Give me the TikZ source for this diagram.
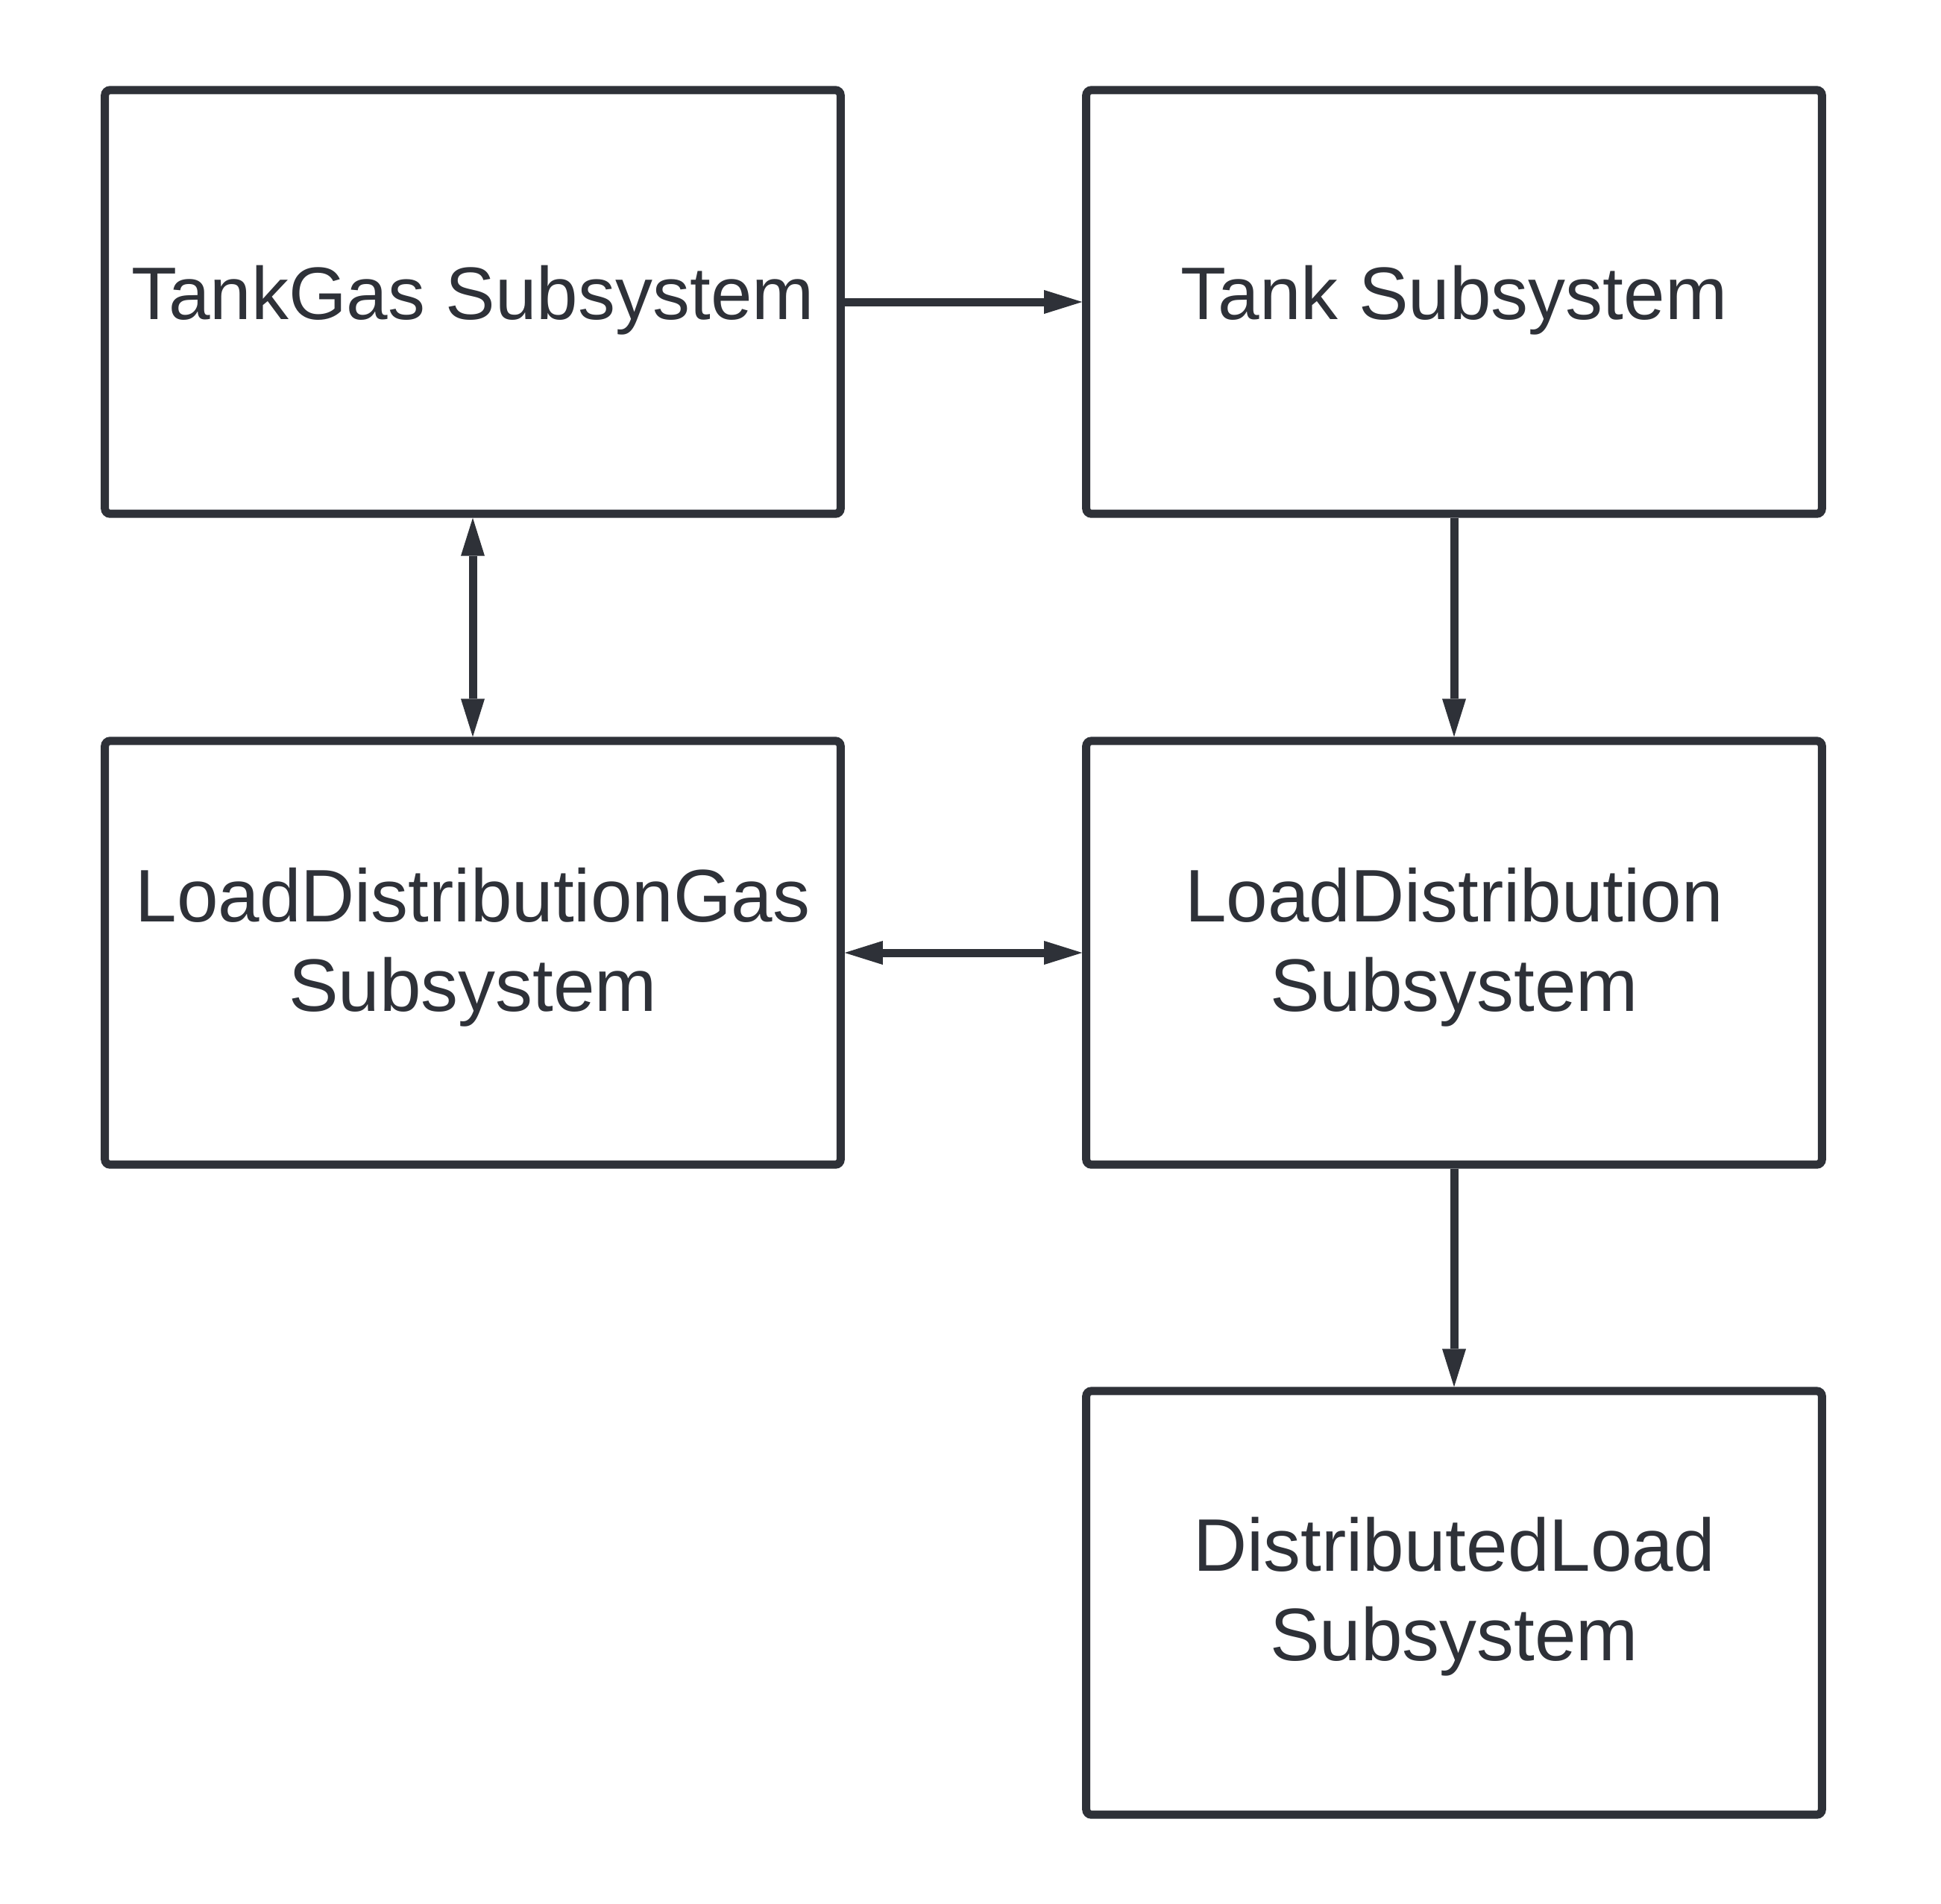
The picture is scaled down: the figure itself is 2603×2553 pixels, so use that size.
\documentclass[tikz,border=0pt]{standalone}
\usepackage{fontspec}
\setmainfont{Liberation Sans}
\usetikzlibrary{arrows.meta}
\definecolor{ink}{HTML}{2E3138}
\begin{document}
\begin{tikzpicture}[x=0.01cm,y=-0.01cm,
  box/.style={draw=ink, line width=0.11cm, rounded corners=0.07cm,
    minimum width=9.86cm, minimum height=5.68cm, inner sep=0pt},
  txt/.style={text=ink, font=\fontsize{28.4pt}{34.1pt}\selectfont,
    align=center, inner sep=0pt, anchor=base},
  conn/.style={draw=ink, line width=0.11cm},
  tipend/.style={conn, -{Triangle[length=0.51cm,width=0.32cm,line width=0pt]}},
  tipboth/.style={conn, {Triangle[length=0.51cm,width=0.32cm,line width=0pt]}-{Triangle[length=0.51cm,width=0.32cm,line width=0pt]}}]
\useasboundingbox[fill=white] (0,0) rectangle (2603,2553);

\node[box] (tg)  at (634,405)  {};
\node[box] (t)   at (1950,405) {};
\node[box] (ldg) at (634,1278) {};
\node[box] (ld)  at (1950,1278) {};
\node[box] (dl)  at (1950,2150) {};

\node[txt] (tgl)  at (634,428)   {TankGas Subsystem};
\node[txt] (tl)   at (1950,428)  {Tank Subsystem};
\node[txt] (ldgl) at (634,1356)  {LoadDistributionGas\\Subsystem};
\node[txt] (ldl)  at (1950,1356) {LoadDistribution\\Subsystem};
\node[txt] (dll)  at (1950,2227) {DistributedLoad\\Subsystem};

\draw[tipend]  (tg.east)   -- (t.west);
\draw[tipboth] (tg.south)  -- (ldg.north);
\draw[tipend]  (t.south)   -- (ld.north);
\draw[tipboth] (ldg.east)  -- (ld.west);
\draw[tipend]  (ld.south)  -- (dl.north);
\end{tikzpicture}
\end{document}
